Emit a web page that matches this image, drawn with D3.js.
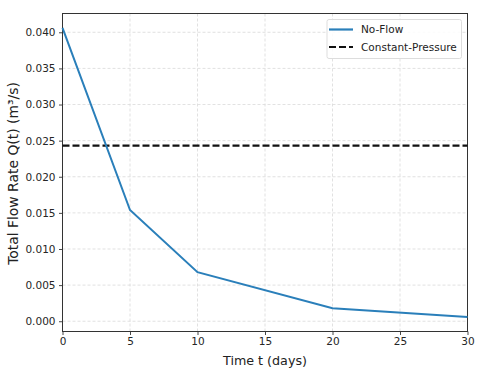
<!DOCTYPE html>
<html>
<head>
<meta charset="utf-8">
<script src="https://cdn.jsdelivr.net/npm/d3@7"></script>
<style>
  body { margin: 0; background: #fff; }
  svg { display: block; font-family: "DejaVu Sans", sans-serif; }
</style>
</head>
<body>
<svg id="chart"></svg>
<script>
// data
const days = [0, 5, 10, 20, 30];
const noFlow = [0.0406, 0.0154, 0.0068, 0.0018, 0.00058];
const constantPressure = 0.0243;
const xTicks = [0, 5, 10, 15, 20, 25, 30];
const yTicks = [0, 0.005, 0.01, 0.015, 0.02, 0.025, 0.03, 0.035, 0.04];
const seriesNames = ['No-Flow', 'Constant-Pressure'];

const W = 480, H = 378;
const m = { top: 13.5, right: 12.5, bottom: 46.5, left: 62.5 };
const iw = W - m.left - m.right, ih = H - m.top - m.bottom;

const svg = d3.select('#chart').attr('width', W).attr('height', H);
const g = svg.append('g').attr('transform', `translate(${m.left},${m.top})`);

// matplotlib-like 5% margin on y
const yMin = d3.min(noFlow), yMax = d3.max(noFlow);
const pad = (yMax - yMin) * 0.05;

const x = d3.scaleLinear().domain([0, 30]).range([0, iw]);
const y = d3.scaleLinear().domain([yMin - pad, yMax + pad]).range([ih, 0]);

// grid
g.append('g').selectAll('line').data(xTicks).join('line')
  .attr('x1', d => x(d)).attr('x2', d => x(d))
  .attr('y1', 0).attr('y2', ih)
  .attr('stroke', '#d9d9d9').attr('stroke-width', 0.8).attr('stroke-dasharray', '3,2');
g.append('g').selectAll('line').data(yTicks).join('line')
  .attr('x1', 0).attr('x2', iw)
  .attr('y1', d => y(d)).attr('y2', d => y(d))
  .attr('stroke', '#d9d9d9').attr('stroke-width', 0.8).attr('stroke-dasharray', '3,2');

// axes
const xAxis = g.append('g').attr('transform', `translate(0,${ih})`)
  .call(d3.axisBottom(x).tickValues(xTicks).tickFormat(d3.format('d')).tickSizeInner(3.5).tickSizeOuter(0).tickPadding(3));
const yAxis = g.append('g')
  .call(d3.axisLeft(y).tickValues(yTicks).tickFormat(d3.format('.3f')).tickSizeInner(3.5).tickSizeOuter(0).tickPadding(3.5));
[xAxis, yAxis].forEach(a => {
  a.select('.domain').remove();
  a.selectAll('line').attr('stroke', '#333').attr('stroke-width', 0.9);
  a.selectAll('text').attr('font-size', 10.5).attr('fill', '#262626')
    .attr('font-family', '"DejaVu Sans", sans-serif');
});

// spines
g.append('rect').attr('x', 0).attr('y', 0).attr('width', iw).attr('height', ih)
  .attr('fill', 'none').attr('stroke', '#333').attr('stroke-width', 1);

// constant pressure line
g.append('line')
  .attr('x1', 0).attr('x2', iw)
  .attr('y1', y(constantPressure)).attr('y2', y(constantPressure))
  .attr('stroke', '#111').attr('stroke-width', 2.2).attr('stroke-dasharray', '7,3');

// no-flow line
const line = d3.line().x((d, i) => x(days[i])).y(d => y(d));
g.append('path').datum(noFlow)
  .attr('d', line)
  .attr('fill', 'none').attr('stroke', '#2a7fba').attr('stroke-width', 2);

// axis labels
svg.append('text')
  .attr('x', m.left + iw / 2).attr('y', 365)
  .attr('text-anchor', 'middle').attr('font-size', 12.7).attr('fill', '#222')
  .text('Time t (days)');
svg.append('text')
  .attr('transform', `translate(17.5,${m.top + ih / 2 + 1}) rotate(-90)`)
  .attr('text-anchor', 'middle').attr('font-size', 13.9).attr('fill', '#222')
  .text('Total Flow Rate Q(t) (m³/s)');

// legend
const lg = svg.append('g').attr('transform', 'translate(327,19.5)');
lg.append('rect').attr('width', 134.5).attr('height', 39).attr('rx', 2)
  .attr('fill', '#fff').attr('fill-opacity', 0.85).attr('stroke', '#ddd').attr('stroke-width', 1);
const styles = [
  { stroke: '#2a7fba', dash: null },
  { stroke: '#111', dash: '7,3' }
];
seriesNames.forEach((name, i) => {
  const yy = 10 + i * 17.5;
  lg.append('line').attr('x1', 2).attr('x2', 26).attr('y1', yy).attr('y2', yy)
    .attr('stroke', styles[i].stroke).attr('stroke-width', 2.2)
    .attr('stroke-dasharray', styles[i].dash);
  lg.append('text').attr('x', 34).attr('y', yy).attr('dy', '0.35em')
    .attr('font-size', 10.5).attr('fill', '#222').text(name);
});
</script>
</body>
</html>
